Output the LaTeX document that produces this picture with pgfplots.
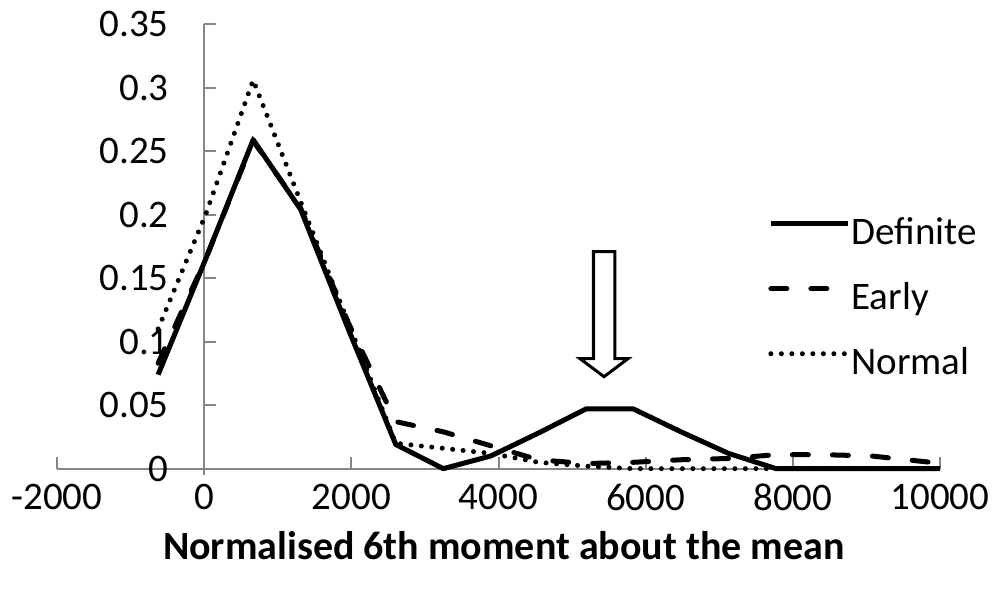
\documentclass[border=0pt]{standalone}
\usepackage{pgfplots}
\pgfplotsset{compat=1.18}
\usepackage{fontspec}
\setmainfont{Carlito}
\definecolor{axgray}{RGB}{134,134,134}
\newcommand{\chartfont}{\fontsize{39}{46}\selectfont}

% one table per series: normalised 6th moment, frequency
\pgfplotstableread{
x y
-626 0.074
20 0.165
666 0.259
1312 0.204
1958 0.110
2604 0.019
3250 0.000
3896 0.010
4542 0.028
5188 0.047
5834 0.047
6480 0.029
7126 0.012
7772 0.000
8418 0.000
9064 0.000
9710 0.000
10356 0.000
}\definite
\pgfplotstableread{
x y
-626 0.083
20 0.165
666 0.258
1312 0.205
1958 0.115
2604 0.037
3250 0.029
3896 0.018
4542 0.007
5188 0.004
5834 0.005
6480 0.007
7126 0.008
7772 0.011
8418 0.011
9064 0.010
9710 0.006
10356 0.002
}\early
\pgfplotstableread{
x y
-626 0.110
20 0.200
666 0.306
1312 0.210
1958 0.115
2604 0.020
3250 0.016
3896 0.012
4542 0.005
5188 0.002
5834 0.000
6480 0.000
7126 0.000
7772 0.000
8418 0.000
9064 0.000
9710 0.000
10356 0.000
}\normal

\begin{document}
\begin{tikzpicture}[x=1pt,y=1pt]
\useasboundingbox (-57,-125) rectangle (937,467);
\begin{axis}[
  at={(0,-6)}, anchor=south west,
  scale only axis, width=883pt, height=450.5pt,
  xmin=-2000, xmax=10000, ymin=-0.0047, ymax=0.35,
  axis lines*=middle,
  axis line style={draw=axgray, line width=2pt},
  tick style={draw=axgray, line width=2pt},
  major tick length=12pt,
  tick align=inside,
  scaled x ticks=false, scaled y ticks=false,
  hide obscured x ticks=false, hide obscured y ticks=false,
  xtick={-2000,0,2000,4000,6000,8000,10000},
  xticklabels={-2000,0,2000,4000,6000,8000,10000},
  ytick={0,0.05,0.1,0.15,0.2,0.25,0.3,0.35},
  yticklabels={0,0.05,0.1,0.15,0.2,0.25,0.3,0.35},
  tick label style={font=\chartfont},
  yticklabel style={xshift=-32pt},
  xticklabel style={yshift=-12pt},
  xlabel={Normalised 6th moment about the mean},
  xlabel style={font=\fontsize{40}{48}\selectfont\bfseries, at={(axis description cs:0.506,-0.158)}, anchor=center},
  legend cell align=left,
  legend image code/.code={\draw[#1] (0pt,12pt) -- (77pt,12pt);},
  legend style={draw=none, fill=none, font=\chartfont, at={(0.802,0.386)}, anchor=west,
    nodes={inner sep=0pt, text height=26pt, text depth=8pt}, row sep=31pt, column sep=1pt},
]
\addplot[black, line width=5pt, line join=round] table {\definite};
\addlegendentry{Definite}
\addplot[black, line width=5pt, line cap=round, dash pattern=on 16pt off 24pt] table {\early};
\addlegendentry{Early}
\addplot[black, line width=5pt, line cap=round, dash pattern=on 0pt off 10.5pt] table {\normal};
\addlegendentry{Normal}
\draw[black, line width=3pt, fill=white, line join=miter]
  (axis cs:5291,0.1709) -- (axis cs:5583,0.1709) -- (axis cs:5583,0.0866)
  -- (axis cs:5760,0.0866) -- (axis cs:5434,0.0724) -- (axis cs:5108,0.0866)
  -- (axis cs:5291,0.0866) -- cycle;
\end{axis}
\end{tikzpicture}
\end{document}
